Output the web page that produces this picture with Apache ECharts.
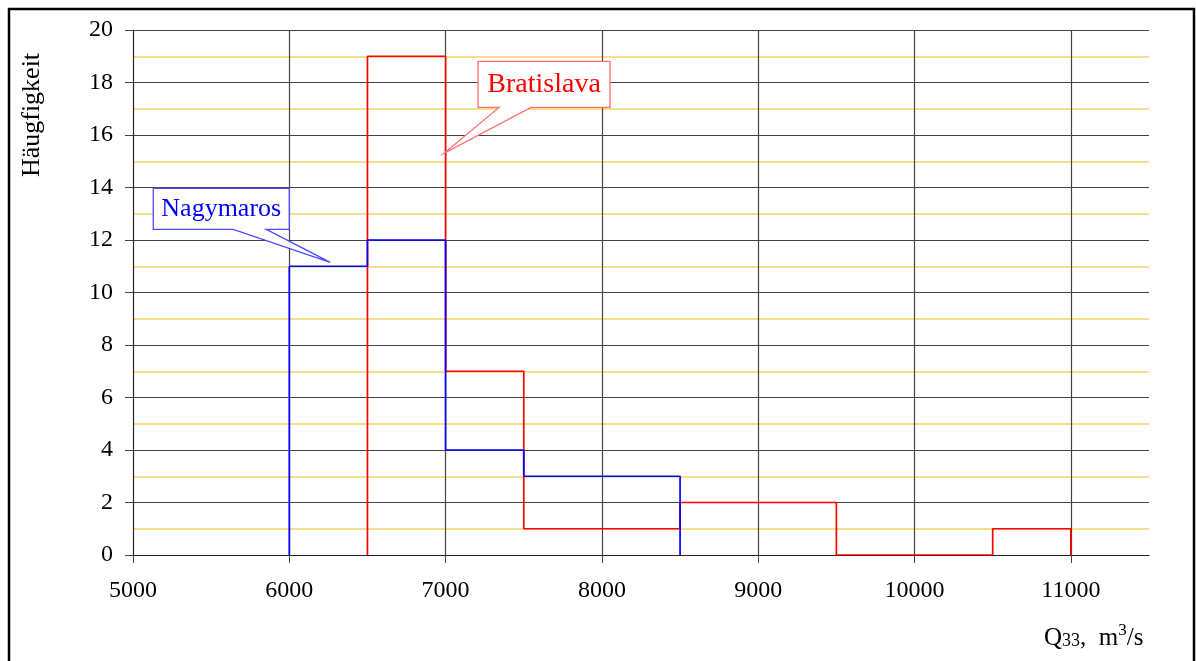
<!DOCTYPE html>
<html>
<head>
<meta charset="utf-8">
<script src="https://cdn.jsdelivr.net/npm/echarts@6/dist/echarts.min.js"></script>
<style>
html, body { margin: 0; padding: 0; background: #fff; }
#chart { width: 1196px; height: 661px; }
</style>
</head>
<body>
<div id="chart"></div>
<script>
// histogram bins (500 m3/s wide) and counts per station
var binStarts = [5000, 5500, 6000, 6500, 7000, 7500, 8000, 8500, 9000, 9500, 10000, 10500, 11000];
var binWidth = 500;
var bratislava = [0, 0, 0, 19, 7, 1, 1, 2, 2, 0, 0, 1, 0];
var nagymaros = [0, 0, 11, 12, 4, 3, 3, 0, 0, 0, 0, 0, 0];
var xTicks = [5000, 6000, 7000, 8000, 9000, 10000, 11000];
// where the callout pointers touch the curves
var bratislavaTip = [6990, 15.3];
var nagymarosTip = [6262, 11.15];

var FONT = 'Liberation Serif';

function stepPath(counts) {
	var first = -1, last = -1;
	counts.forEach(function (c, i) {
		if (c > 0) { if (first < 0) first = i; last = i; }
	});
	var pts = [[binStarts[first], 0]];
	for (var i = first; i <= last; i++) {
		pts.push([binStarts[i], counts[i]]);
		pts.push([binStarts[i] + binWidth, counts[i]]);
	}
	pts.push([binStarts[last] + binWidth, 0]);
	return pts;
}

var chart = echarts.init(document.getElementById('chart'));
var option = {
	animation: false,
	backgroundColor: '#fff',
	grid: { left: 133, right: 47, top: 30, bottom: 106 },
	xAxis: {
		type: 'value',
		min: 5000,
		max: 11500,
		interval: 500,
		axisLine: { show: true, lineStyle: { color: '#222', width: 1 } },
		axisTick: { show: true, length: 8, customValues: xTicks, lineStyle: { color: '#444' } },
		axisLabel: {
			customValues: xTicks, margin: 24, color: '#000', fontFamily: FONT, fontSize: 24,
			formatter: function (v) { return String(v); }
		},
		splitLine: { show: true, lineStyle: { color: '#444', width: 1.2 } }
	},
	yAxis: {
		type: 'value',
		min: 0,
		max: 20,
		interval: 2,
		axisLine: { show: true, lineStyle: { color: '#222', width: 1 } },
		axisTick: { show: true, length: 8, lineStyle: { color: '#444' } },
		axisLabel: { margin: 20, color: '#000', fontFamily: FONT, fontSize: 24 },
		splitLine: { show: true, lineStyle: { color: '#444', width: 1.2 } },
		minorTick: { show: false, splitNumber: 2 },
		minorSplitLine: { show: true, lineStyle: { color: '#f5d46a', width: 1.5 } }
	},
	series: [
		{
			name: 'Nagymaros',
			type: 'line',
			symbol: 'none',
			lineStyle: { color: '#0000ff', width: 1.7 },
			data: stepPath(nagymaros),
			z: 3
		},
		{
			name: 'Bratislava',
			type: 'line',
			symbol: 'none',
			lineStyle: { color: '#ff0000', width: 1.7 },
			data: stepPath(bratislava),
			z: 2
		}
	]
};
chart.setOption(option);

function callout(tip, box, base, label, stroke, color, size) {
	var p = chart.convertToPixel({ gridIndex: 0 }, tip);
	var x0 = p[0] + box[0], x1 = p[0] + box[1];
	var y0 = p[1] + box[2], y1 = p[1] + box[3];
	return [
		{
			type: 'polygon',
			z: 100,
			shape: {
				points: [[x0, y0], [x1, y0], [x1, y1], [p[0] + base[1], y1], [p[0], p[1]],
					[p[0] + base[0], y1], [x0, y1]]
			},
			style: { fill: '#fff', stroke: stroke, lineWidth: 1.3 }
		},
		{
			type: 'text',
			z: 101,
			x: (x0 + x1) / 2,
			y: (y0 + y1) / 2,
			style: {
				text: label, fill: color, font: size + 'px "' + FONT + '"',
				align: 'center', verticalAlign: 'middle'
			}
		}
	];
}

var graphics = [
	{
		type: 'rect',
		z: 0,
		shape: { x: 9, y: 9, width: 1185, height: 670 },
		style: { fill: 'none', stroke: '#000', lineWidth: 2.5 }
	},
	{
		type: 'text',
		x: 32,
		y: 115,
		rotation: Math.PI / 2,
		style: {
			text: 'Häugfigkeit', fill: '#000', font: '26px "' + FONT + '"',
			align: 'center', verticalAlign: 'middle'
		}
	},
	{
		type: 'text',
		x: 1044,
		y: 638,
		style: {
			text: '{a|Q}{b|33}{a|,  m}{s|3}{a|/s}',
			verticalAlign: 'middle',
			rich: {
				a: { fontFamily: FONT, fontSize: 25, fill: '#000', color: '#000' },
				b: { fontFamily: FONT, fontSize: 18, fill: '#000', color: '#000', padding: [6, 0, 0, 0] },
				s: { fontFamily: FONT, fontSize: 17, fill: '#000', color: '#000', padding: [0, 0, 15, 0] }
			}
		}
	}
];
graphics = graphics.concat(
	callout(bratislavaTip, [34, 166, -92, -46], [55, 87], 'Bratislava', '#ff7070', '#ff0000', 28),
	callout(nagymarosTip, [-177, -41, -74, -33], [-97, -64], 'Nagymaros', '#4a4aff', '#0000ff', 26)
);
chart.setOption({ graphic: graphics });
</script>
</body>
</html>
